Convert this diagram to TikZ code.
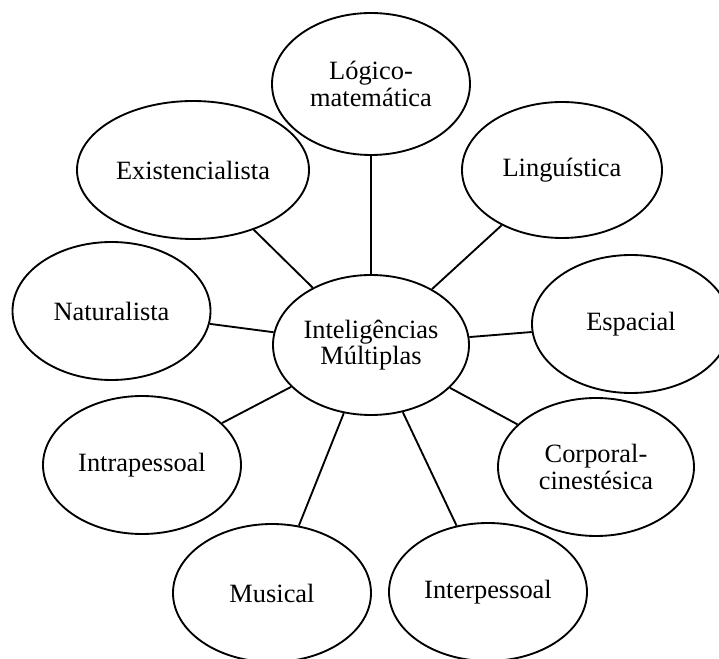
\documentclass[tikz,border=0pt]{standalone}
\usepackage{fontspec}
\setmainfont{Liberation Serif}
\usetikzlibrary{shapes.geometric}
\tikzset{
  bubble/.style={ellipse, draw=black, line width=1.4pt, fill=white, inner sep=0pt,
    minimum width=148.5pt, minimum height=103.5pt, align=center,
    font=\fontsize{19.8}{20}\selectfont},
  link/.style={draw=black, line width=1.4pt}
}
\begin{document}
\begin{tikzpicture}[x=0.75pt, y=-0.75pt]
\useasboundingbox (0,0) rectangle (719,659);
\node[bubble, minimum width=147pt, minimum height=105pt] (C) at (371,345) {Inteligências\\Múltiplas};
\node[bubble, minimum height=106.5pt] (L) at (371,84) {Lógico-\\matemática};
\node[bubble, minimum width=174pt] (E) at (193,170) {Existencialista};
\node[bubble, minimum width=150pt, minimum height=102pt] (Li) at (562,170) {Linguística};
\node[bubble] (N) at (111.5,311) {Naturalista};
\node[bubble] (S) at (631,324) {Espacial};
\node[bubble] (Ia) at (142,465) {Intrapessoal};
\node[bubble, minimum width=147pt] (Co) at (596,467) {Corporal-\\cinestésica};
\node[bubble] (M) at (272,593) {Musical};
\node[bubble] (Ie) at (488,592) {Interpessoal};
\foreach \n in {L,E,Li,N,S,Ia,Co,M,Ie}{
  \draw[link] (C) -- (\n);
}
\end{tikzpicture}
\end{document}
